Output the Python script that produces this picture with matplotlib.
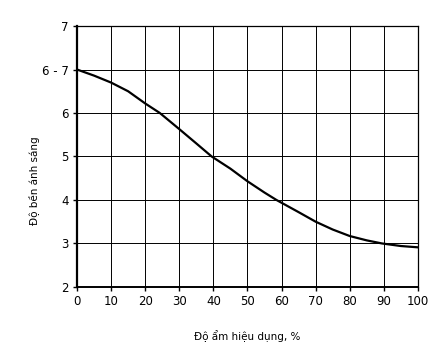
import matplotlib
matplotlib.use('Agg')
import matplotlib.pyplot as plt

# do am hieu dung (%) va do ben anh sang (theo vi tri tren truc)
do_am = [0, 5, 10, 15, 20, 24.3, 30, 35, 39.5, 45, 50, 55, 58.5, 65, 70, 75, 80, 85, 89.4, 95, 100]
do_ben = [5.0, 4.86, 4.70, 4.50, 4.22, 4.0, 3.63, 3.30, 3.0, 2.72, 2.43, 2.17, 2.0, 1.72, 1.50, 1.32, 1.17, 1.07, 1.0, 0.94, 0.91]

x_ticks = [0, 10, 20, 30, 40, 50, 60, 70, 80, 90, 100]
y_labels = ['2', '3', '4', '5', '6', '6 - 7', '7']

fig = plt.figure(figsize=(4.45, 3.52), dpi=100)
ax = fig.add_axes([0.173, 0.185, 0.766, 0.741])

ax.plot(do_am, do_ben, color='black', linewidth=1.6)

ax.set_xlim(0, 100)
ax.set_ylim(0, 6)
ax.set_xticks(x_ticks)
ax.set_yticks(range(len(y_labels)))
ax.set_yticklabels(y_labels)
ax.tick_params(axis='both', labelsize=8.5, length=3, width=1, color='black', pad=3)
ax.grid(True, color='black', linewidth=0.7)

for s in ax.spines.values():
    s.set_linewidth(0.9)
ax.spines['left'].set_linewidth(1.6)
ax.spines['bottom'].set_linewidth(1.4)

ax.set_xlabel('Độ ẩm hiệu dụng, %', fontsize=7.5, labelpad=16)
ax.set_ylabel('Độ bền ánh sáng', fontsize=7.5)
ax.yaxis.set_label_coords(-0.108, 0.406)

plt.savefig('out.png', dpi=100)
